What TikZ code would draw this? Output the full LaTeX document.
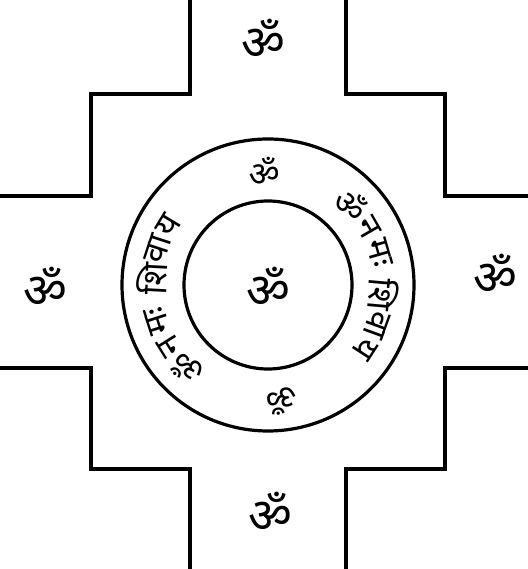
\documentclass[tikz,border=0pt]{standalone}
\usepackage{fontspec}
\newfontfamily\deva[Script=Devanagari]{Noto Sans}
\usetikzlibrary{positioning}

\begin{document}
\begin{tikzpicture}[
  x=1pt, y=1pt,
  wall/.style={draw, line width=3.2pt, line join=miter},
  om/.style={font=\deva\fontsize{48}{48}\selectfont, inner sep=0pt},
  ring/.style={font=\deva\fontsize{34}{34}\selectfont, inner sep=0pt, rotate=#1-90}
]
  \useasboundingbox (-268,-287) rectangle (259,282);
  \coordinate (c) at (0,-3);

  % stepped outline, one corner at a time
  \draw[wall] (-78,290) -- (-78,188) -- (-177,188) -- (-177,86) -- (-280,86);
  \draw[wall] (78,290) -- (78,188) -- (177,188) -- (177,86) -- (270,86);
  \draw[wall] (-78,-295) -- (-78,-187) -- (-177,-187) -- (-177,-86) -- (-280,-86);
  \draw[wall] (78,-295) -- (78,-187) -- (177,-187) -- (177,-86) -- (270,-86);

  % rings
  \draw[wall] (c) circle[radius=146pt];
  \draw[wall] (c) circle[radius=84pt];

  % the five om signs
  \node[om] (om-t) at (-5,243) {ॐ};
  \node[om] (om-c) at (0,-5) {ॐ};
  \node[om] (om-l) at (-223,-5) {ॐ};
  \node[om] (om-r) at (227,8) {ॐ};
  \node[om] (om-b) at (2,-230) {ॐ};

  % text round the ring
  \node[ring=92] (rt) at ([shift={(92:113)}]c) {ॐ};
  \node[ring=277] (rb) at ([shift={(277:116)}]c) {ॐ};

  \node[ring=44] (r1) at ([shift={(44:116)}]c) {ॐ};
  \node[ring=30] (r2) at ([shift={(30:116)}]c) {न};
  \node[ring=16] (r3) at ([shift={(16:116)}]c) {मः};
  \node[ring=-5] (r4) at ([shift={(-5:116)}]c) {शि};
  \node[ring=-20] (r5) at ([shift={(-20:116)}]c) {वा};
  \node[ring=-33] (r6) at ([shift={(-33:116)}]c) {य};

  \node[ring=226] (l1) at ([shift={(226:116)}]c) {ॐ};
  \node[ring=212] (l2) at ([shift={(212:116)}]c) {न};
  \node[ring=198] (l3) at ([shift={(198:116)}]c) {मः};
  \node[ring=177] (l4) at ([shift={(177:116)}]c) {शि};
  \node[ring=162] (l5) at ([shift={(162:116)}]c) {वा};
  \node[ring=149] (l6) at ([shift={(149:116)}]c) {य};
\end{tikzpicture}
\end{document}
